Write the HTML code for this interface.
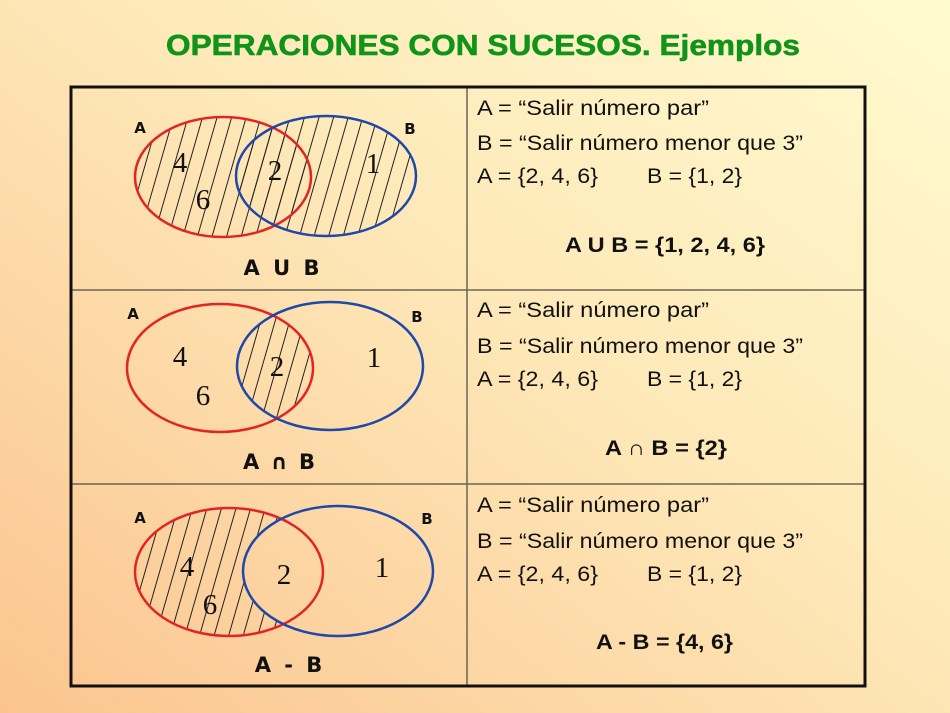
<!DOCTYPE html>
<html><head><meta charset="utf-8"><style>
html,body{margin:0;padding:0;width:950px;height:713px;overflow:hidden}
svg{display:block}
.t{font-family:"Liberation Sans",Arial,sans-serif;font-size:21px;fill:#111}
.b{font-family:"Liberation Sans",Arial,sans-serif;font-size:21px;font-weight:bold;fill:#111}
.n{font-family:"Liberation Serif","Times New Roman",serif;font-size:29px;fill:#111}
.l{font-family:"DejaVu Sans","Liberation Sans",sans-serif;font-weight:bold;fill:#111}
</style></head><body>
<svg width="950" height="713" viewBox="0 0 950 713" xmlns="http://www.w3.org/2000/svg">
<defs>
<linearGradient id="bg" x1="1" y1="0" x2="0" y2="1">
<stop offset="0" stop-color="#fffbd0"/>
<stop offset="0.45" stop-color="#fee8b8"/>
<stop offset="1" stop-color="#fbc48f"/>
</linearGradient>
<pattern id="h" patternUnits="userSpaceOnUse" width="14" height="40" patternTransform="rotate(16)">
<line x1="3" y1="0" x2="3" y2="40" stroke="#222" stroke-width="1"/>
</pattern>
<clipPath id="cB2"><ellipse cx="330" cy="366" rx="93" ry="64"/></clipPath>
<mask id="mAB" maskUnits="userSpaceOnUse" x="0" y="0" width="950" height="713">
<ellipse cx="229" cy="572" rx="94" ry="64" fill="#fff"/>
<ellipse cx="338" cy="571" rx="95" ry="65" fill="#000"/>
</mask>
</defs>
<rect width="950" height="713" fill="url(#bg)"/>
<text x="483" y="55" text-anchor="middle" textLength="634" lengthAdjust="spacingAndGlyphs" style="font-family:'Liberation Sans',Arial,sans-serif;font-weight:bold;font-size:29px;fill:#0f9418;stroke:#0f9418;stroke-width:0.6">OPERACIONES  CON SUCESOS. Ejemplos</text>

<line x1="71" y1="290" x2="865" y2="290" stroke="#6b6455" stroke-width="1.5"/>
<line x1="71" y1="484" x2="865" y2="484" stroke="#6b6455" stroke-width="1.5"/>
<line x1="467" y1="87" x2="467" y2="687" stroke="#6b6455" stroke-width="1.5"/>
<rect x="71" y="87" width="794" height="599" fill="none" stroke="#111" stroke-width="3"/>

<!-- row1 -->
<ellipse cx="223" cy="177" rx="88" ry="60" fill="url(#h)"/>
<ellipse cx="326" cy="176" rx="90" ry="60" fill="url(#h)"/>
<ellipse cx="223" cy="177" rx="88" ry="60" fill="none" stroke="#e32424" stroke-width="2.5"/>
<ellipse cx="326" cy="176" rx="90" ry="60" fill="none" stroke="#2048a8" stroke-width="2.5"/>
<text class="l" x="140" y="133" font-size="15" text-anchor="middle">A</text>
<text class="l" x="410" y="134" font-size="15" text-anchor="middle">B</text>
<text class="l" x="283" y="275" font-size="21" letter-spacing="3" text-anchor="middle">A U B</text>
<text class="n" x="180" y="172" text-anchor="middle">4</text>
<text class="n" x="275" y="180" text-anchor="middle">2</text>
<text class="n" x="373" y="173" text-anchor="middle">1</text>
<text class="n" x="203" y="209" text-anchor="middle">6</text>

<!-- row2 -->
<ellipse cx="220" cy="368" rx="93" ry="64" fill="url(#h)" clip-path="url(#cB2)"/>
<ellipse cx="220" cy="368" rx="93" ry="64" fill="none" stroke="#e32424" stroke-width="2.5"/>
<ellipse cx="330" cy="366" rx="93" ry="64" fill="none" stroke="#2048a8" stroke-width="2.5"/>
<text class="l" x="133" y="319" font-size="15" text-anchor="middle">A</text>
<text class="l" x="417" y="322" font-size="15" text-anchor="middle">B</text>
<text class="l" x="280" y="469" font-size="21" letter-spacing="2" text-anchor="middle">A ∩ B</text>
<text class="n" x="180" y="366" text-anchor="middle">4</text>
<text class="n" x="277" y="376" text-anchor="middle">2</text>
<text class="n" x="374" y="367" text-anchor="middle">1</text>
<text class="n" x="203" y="405" text-anchor="middle">6</text>

<!-- row3 -->
<ellipse cx="229" cy="572" rx="94" ry="64" fill="url(#h)" mask="url(#mAB)"/>
<ellipse cx="229" cy="572" rx="94" ry="64" fill="none" stroke="#e32424" stroke-width="2.5"/>
<ellipse cx="338" cy="571" rx="95" ry="65" fill="none" stroke="#2048a8" stroke-width="2.5"/>
<text class="l" x="140" y="523" font-size="15" text-anchor="middle">A</text>
<text class="l" x="427" y="524" font-size="15" text-anchor="middle">B</text>
<text class="l" x="290" y="672" font-size="21" letter-spacing="3" text-anchor="middle">A - B</text>
<text class="n" x="187" y="576" text-anchor="middle">4</text>
<text class="n" x="284" y="584" text-anchor="middle">2</text>
<text class="n" x="382" y="577" text-anchor="middle">1</text>
<text class="n" x="210" y="614" text-anchor="middle">6</text>

<g>
<text class="t" x="477" y="115" textLength="232" lengthAdjust="spacingAndGlyphs">A = “Salir número par”</text>
<text class="t" x="477" y="150" textLength="326" lengthAdjust="spacingAndGlyphs">B = “Salir número menor que 3”</text>
<text class="t" x="477" y="183" textLength="121" lengthAdjust="spacingAndGlyphs">A = {2, 4, 6}</text>
<text class="t" x="647" y="183" textLength="95" lengthAdjust="spacingAndGlyphs">B = {1, 2}</text>
<text class="b" x="565" y="252" textLength="200" lengthAdjust="spacingAndGlyphs">A U B = {1, 2, 4, 6}</text>

<text class="t" x="477" y="317" textLength="232" lengthAdjust="spacingAndGlyphs">A = “Salir número par”</text>
<text class="t" x="477" y="353" textLength="326" lengthAdjust="spacingAndGlyphs">B = “Salir número menor que 3”</text>
<text class="t" x="477" y="386" textLength="121" lengthAdjust="spacingAndGlyphs">A = {2, 4, 6}</text>
<text class="t" x="647" y="386" textLength="95" lengthAdjust="spacingAndGlyphs">B = {1, 2}</text>
<text class="b" x="605" y="455" textLength="122" lengthAdjust="spacingAndGlyphs">A ∩ B = {2}</text>

<text class="t" x="477" y="512" textLength="232" lengthAdjust="spacingAndGlyphs">A = “Salir número par”</text>
<text class="t" x="477" y="548" textLength="326" lengthAdjust="spacingAndGlyphs">B = “Salir número menor que 3”</text>
<text class="t" x="477" y="581" textLength="121" lengthAdjust="spacingAndGlyphs">A = {2, 4, 6}</text>
<text class="t" x="647" y="581" textLength="95" lengthAdjust="spacingAndGlyphs">B = {1, 2}</text>
<text class="b" x="596" y="649" textLength="137" lengthAdjust="spacingAndGlyphs">A - B = {4, 6}</text>
</g>
</svg>
</body></html>
